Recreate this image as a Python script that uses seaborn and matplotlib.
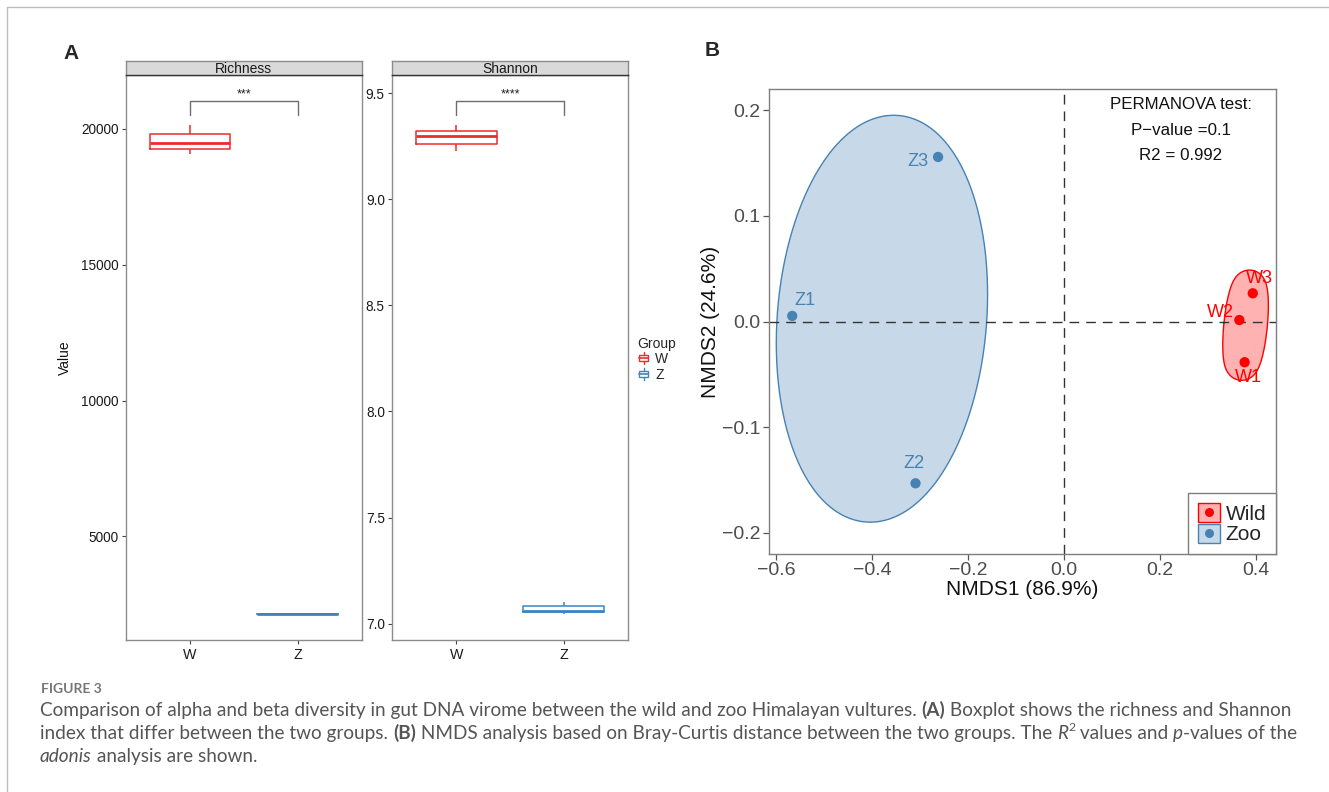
import numpy as np
import pandas as pd
import matplotlib
matplotlib.use("Agg")
import matplotlib.pyplot as plt
import seaborn as sns
from matplotlib.legend_handler import HandlerBase
from matplotlib.patches import Rectangle
from matplotlib.lines import Line2D

# ---------------- data ----------------
groups = ["W", "Z"]
richness_W = [19080, 19466, 20130]
richness_Z = [2140, 2155, 2165]
shannon_W = [9.225, 9.296, 9.348]
shannon_Z = [7.045, 7.062, 7.104]
facet_titles = ["Richness", "Shannon"]
sig_labels = ["***", "****"]
richness_ticks = [5000, 10000, 15000, 20000]
shannon_ticks = [7.0, 7.5, 8.0, 8.5, 9.0, 9.5]

samples = ["W1", "W2", "W3", "Z1", "Z2", "Z3"]
nmds1 = [0.377, 0.366, 0.394, -0.566, -0.309, -0.262]
nmds2 = [-0.0386, 0.0014, 0.0267, 0.0053, -0.1533, 0.1559]
sample_group = ["Wild", "Wild", "Wild", "Zoo", "Zoo", "Zoo"]
group_names = ["Wild", "Zoo"]
nmds_x_ticks = [-0.6, -0.4, -0.2, 0.0, 0.2, 0.4]
nmds_y_ticks = [-0.2, -0.1, 0.0, 0.1, 0.2]
axis1_pct = 86.9
axis2_pct = 24.6
permanova_p = 0.1
permanova_r2 = 0.992

# ---------------- style ----------------
sns.set_style("white")
plt.rcParams["font.family"] = ["Liberation Sans", "DejaVu Sans"]

W_PX, H_PX = 1329, 792
fig = plt.figure(figsize=(W_PX / 100, H_PX / 100), dpi=100)
fig.patch.set_facecolor("white")


def fx(x):
    return x / W_PX


def fy(y):
    return 1 - y / H_PX


def rect(l, t, r, b):
    return [fx(l), fy(b), (r - l) / W_PX, (b - t) / H_PX]


box_pal = {"W": "#EE2A2A", "Z": "#3A85C6"}
grp_pal = {"Wild": "#FF0000", "Zoo": "#4682B4"}
border_grey = "#8C8C8C"

# ---------------- panel A ----------------
panelA = [
    (rect(125.5, 75.3, 362, 639.8), richness_W, richness_Z, richness_ticks, "{:.0f}"),
    (rect(391.7, 75.3, 628.3, 639.8), shannon_W, shannon_Z, shannon_ticks, "{:.1f}"),
]
axesA = []
for i, (pos, wv, zv, ticks, fmt) in enumerate(panelA):
    ax = fig.add_axes(pos)
    axesA.append(ax)
    df = pd.DataFrame({"Group": ["W"] * len(wv) + ["Z"] * len(zv), "Value": wv + zv})
    sns.boxplot(data=df, x="Group", y="Value", hue="Group", palette=box_pal,
                fill=False, width=0.75, whis=np.inf, linewidth=1.1, legend=False,
                medianprops={"linewidth": 2.0}, capprops={"visible": False}, ax=ax)
    ax.set_xlim(-0.6, 1.6)
    allv = wv + zv
    lo, hi = min(allv), max(allv)
    R = hi - lo
    tip = hi + 0.022 * R
    bar = hi + 0.05 * R
    ax.plot([0, 0, 1, 1], [tip, bar, bar, tip], color="#6E6E6E", lw=1.0)
    ax.annotate(sig_labels[i], xy=(0.5, bar), xytext=(0, 2.5), textcoords="offset points",
                ha="center", va="baseline", fontsize=9, color="#222222")
    span = bar - lo
    ax.set_ylim(lo - 0.05 * span, bar + 0.05 * span)
    ax.set_yticks(ticks)
    ax.set_yticklabels([fmt.format(t) for t in ticks])
    ax.set_xticks([0, 1])
    ax.set_xticklabels(groups)
    ax.set_xlabel("")
    ax.set_ylabel("")
    ax.tick_params(axis="both", length=3, width=0.8, color="#444444",
                   labelsize=9.8, labelcolor="#1A1A1A", pad=2)
    ax.tick_params(axis="x", labelsize=10.3, pad=3)
    ax.tick_params(left=True, bottom=True)
    for s in ax.spines.values():
        s.set_color(border_grey)
        s.set_linewidth(1.0)
    # strip
    l, b, w, h = pos
    st = fig.add_axes([l, b + h, w, 14.6 / H_PX])
    st.set_facecolor("#D9D9D9")
    st.set_xticks([])
    st.set_yticks([])
    for s in st.spines.values():
        s.set_color(border_grey)
        s.set_linewidth(1.0)
    st.spines["bottom"].set_color("#333333")
    st.text(0.5, 0.42, facet_titles[i], ha="center", va="center", fontsize=10, color="#1A1A1A")

axesA[0].set_ylabel("Value", fontsize=10, color="#111111")
axesA[0].yaxis.set_label_coords((72 - 125.5) / 236.5, 0.5)


class BoxHandler(HandlerBase):
    def create_artists(self, legend, orig_handle, xdescent, ydescent, width, height, fontsize, trans):
        c = orig_handle.get_color()
        x0, y0 = -xdescent, -ydescent
        cx = x0 + width / 2
        arts = [
            Rectangle((x0 + 0.1 * width, y0 + 0.22 * height), 0.8 * width, 0.56 * height,
                      facecolor="white", edgecolor=c, lw=1.0, transform=trans),
            Line2D([x0 + 0.1 * width, x0 + 0.9 * width], [y0 + 0.5 * height] * 2, color=c, lw=1.2, transform=trans),
            Line2D([cx, cx], [y0 - 0.05 * height, y0 + 0.22 * height], color=c, lw=1.0, transform=trans),
            Line2D([cx, cx], [y0 + 0.78 * height, y0 + 1.05 * height], color=c, lw=1.0, transform=trans),
        ]
        return arts


hA = [Line2D([], [], color=box_pal[g]) for g in groups]
legA = fig.legend(hA, groups, title="Group", loc="upper left", bbox_to_anchor=(fx(628), fy(327)),
                  frameon=False, fontsize=10, title_fontsize=10, handler_map={Line2D: BoxHandler()},
                  handlelength=0.85, handleheight=0.85, handletextpad=0.4, labelspacing=0.1,
                  borderpad=0.2)
legA._legend_box.align = "left"

fig.text(fx(71.5), fy(53.5), "A", ha="center", va="center", fontsize=15, fontweight="bold")
fig.text(fx(712), fy(51), "B", ha="center", va="center", fontsize=15, fontweight="bold")

# ---------------- panel B ----------------
axb = fig.add_axes(rect(769.2, 89.3, 1275.8, 553.7))
dfb = pd.DataFrame({"Sample": samples, "NMDS1": nmds1, "NMDS2": nmds2, "Group": sample_group})
xr = max(nmds1) - min(nmds1)
axb.set_xlim(min(nmds1) - 0.05 * xr, max(nmds1) + 0.05 * xr)
axb.set_ylim(-0.22, 0.22)


def mark_ellipse(ax, xs, ys, color, expand_px=15.0):
    pts = ax.transData.transform(np.column_stack([xs, ys]))
    c = pts.mean(axis=0)
    n = len(xs)
    P = np.cov(pts.T) * (n - 1) / n
    evals, evecs = np.linalg.eigh(P)
    a = np.sqrt(2 * np.maximum(evals, 1e-9))
    t = np.linspace(0, 2 * np.pi, 600)
    base = c + (evecs @ np.vstack([a[0] * np.cos(t), a[1] * np.sin(t)])).T
    d = (evecs @ np.vstack([-a[0] * np.sin(t), a[1] * np.cos(t)])).T
    nrm = np.column_stack([d[:, 1], -d[:, 0]])
    nrm /= np.linalg.norm(nrm, axis=1, keepdims=True)
    sign = np.sign(np.sum(nrm * (base - c), axis=1))
    nrm *= sign[:, None]
    out = base + expand_px * nrm
    data = ax.transData.inverted().transform(out)
    ax.fill(data[:, 0], data[:, 1], facecolor=color, alpha=0.3, edgecolor="none", zorder=1)
    ax.plot(data[:, 0], data[:, 1], color=color, lw=1.0, zorder=1.5)


for g in group_names:
    sub = dfb[dfb["Group"] == g]
    mark_ellipse(axb, sub["NMDS1"].values, sub["NMDS2"].values, grp_pal[g])

axb.axhline(0, color="#333333", lw=1.0, ls=(0, (7, 5)), zorder=2)
axb.axvline(0, color="#333333", lw=1.0, ls=(0, (7, 5)), zorder=2)

sns.scatterplot(data=dfb, x="NMDS1", y="NMDS2", hue="Group", palette=grp_pal, s=55,
                linewidth=0, legend=False, ax=axb, zorder=4)

label_offsets = {"Z1": (9.4, 11.2), "Z3": (-14.4, -3.6), "Z2": (-1.2, 14.4),
                 "W3": (5.0, 10.8), "W2": (-13.7, 5.4), "W1": (2.9, -11.2)}
for s, x, y, g in zip(samples, nmds1, nmds2, sample_group):
    axb.annotate(s, xy=(x, y), xytext=label_offsets[s], textcoords="offset points",
                 ha="center", va="center", fontsize=13, color=grp_pal[g], zorder=5)

axb.set_xticks(nmds_x_ticks)
axb.set_xticklabels([f"{v:.1f}".replace("-", "\u2212") for v in nmds_x_ticks])
axb.set_yticks(nmds_y_ticks)
axb.set_yticklabels([f"{v:.1f}".replace("-", "\u2212") for v in nmds_y_ticks])
axb.tick_params(axis="both", length=4, width=0.9, color="#555555", labelsize=14,
                labelcolor="#4D4D4D", pad=2, left=True, bottom=True)
for s in axb.spines.values():
    s.set_color("#7F7F7F")
    s.set_linewidth(1.0)
axb.set_xlabel(f"NMDS1 ({axis1_pct}%)", fontsize=15, color="#111111", labelpad=1)
axb.set_ylabel(f"NMDS2 ({axis2_pct}%)", fontsize=15, color="#111111", labelpad=2)

tx = (1180.8 - 769.2) / 506.6
for k, (txt, ypx) in enumerate([("PERMANOVA test:", 104.8),
                                 (f"P\u2212value ={permanova_p}", 130.7),
                                 (f"R2 = {permanova_r2}", 155.9)]):
    axb.text(tx, 1 - (ypx - 89.3) / 464.4, txt, transform=axb.transAxes, ha="center",
             va="center", fontsize=12.2, color="#111111")


class DotBoxHandler(HandlerBase):
    def create_artists(self, legend, orig_handle, xdescent, ydescent, width, height, fontsize, trans):
        c = orig_handle.get_color()
        x0, y0 = -xdescent, -ydescent
        r = Rectangle((x0, y0), width, height, facecolor=matplotlib.colors.to_rgba(c, 0.3),
                      edgecolor=c, lw=1.0, transform=trans)
        dot = Line2D([x0 + width / 2], [y0 + height / 2], marker="o", color=c, ms=6.5,
                     mec="none", transform=trans)
        return [r, dot]


hB = [Line2D([], [], color=grp_pal[g]) for g in group_names]
legB = axb.legend(hB, group_names, loc="lower right", borderaxespad=0, fontsize=15,
                  handler_map={Line2D: DotBoxHandler()}, handlelength=1.05, handleheight=1.05,
                  handletextpad=0.3, labelspacing=0.0, borderpad=0.45, fancybox=False,
                  frameon=True, edgecolor="#7F7F7F", framealpha=1)
legB.get_frame().set_linewidth(1.0)

# ---------------- frame lines ----------------
fig.add_artist(Line2D([fx(7), 1], [fy(7), fy(7)], color="#BDBDBD", lw=1.0, transform=fig.transFigure))
fig.add_artist(Line2D([fx(7), fx(7)], [fy(7), 0], color="#BDBDBD", lw=1.0, transform=fig.transFigure))

# ---------------- caption ----------------
renderer = fig.canvas.get_renderer()
cap_font = ["Lato", "DejaVu Sans"]


def run_width(txt, size, **kw):
    t1 = fig.text(0, 0, "x" + txt + "x", fontsize=size, family=cap_font, **kw)
    w1 = t1.get_window_extent(renderer).width
    t1.remove()
    t2 = fig.text(0, 0, "xx", fontsize=size, family=cap_font, **kw)
    w2 = t2.get_window_extent(renderer).width
    t2.remove()
    return w1 - w2


def draw_runs(x_px, base_px, runs, size, color="#555555", draw=True):
    x = x_px
    for txt, kw in runs:
        kw = dict(kw)
        sup = kw.pop("sup", False)
        sz = size * 0.65 if sup else size
        yb = base_px - (0.42 * size * 100 / 72 if sup else 0)
        if draw:
            fig.text(fx(x), fy(yb), txt, fontsize=sz, family=cap_font, color=color,
                     va="baseline", ha="left", **kw)
        x += run_width(txt, sz, **kw)
    return x - x_px


B = {"fontweight": "bold"}
I = {"fontstyle": "italic"}
N = {}
cap_lines = [
    [("Comparison of alpha and beta diversity in gut DNA virome between the wild and zoo Himalayan vultures. ", N),
     ("(A)", B), (" Boxplot shows the richness and Shannon", N)],
    [("index that differ between the two groups. ", N), ("(B)", B),
     (" NMDS analysis based on Bray-Curtis distance between the two groups. The ", N),
     ("R", I), ("2", {"sup": True}), (" values and ", N), ("p", I), ("-values of the", N)],
    [("adonis", I), (" analysis are shown.", N)],
]
w10 = draw_runs(40, 0, cap_lines[0], 10, draw=False)
cap_size = 10 * 1250 / w10
for line, yb in zip(cap_lines, [716, 739, 762]):
    draw_runs(40, yb, line, cap_size)
fig.text(fx(41), fy(693), "FIGURE 3", fontsize=10, family=cap_font, fontweight="bold",
         color="#767676", va="baseline", ha="left")

fig.savefig("out.png", dpi=100, facecolor="white")
